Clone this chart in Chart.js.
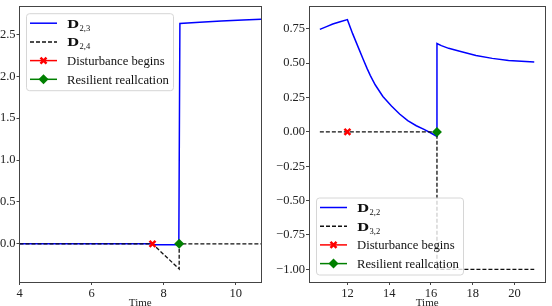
<!DOCTYPE html>
<html>
<head>
<meta charset="utf-8">
<script src="https://cdn.jsdelivr.net/npm/chart.js@4.4.0/dist/chart.umd.min.js"></script>
<style>
    html, body { margin: 0; padding: 0; background: #fff; }
    body { width: 552px; height: 306px; position: relative; overflow: hidden; }
    .panel { position: absolute; top: 0; height: 306px; }
</style>
</head>
<body>
<div class="panel" style="left:0;width:270px"><canvas id="leftChart"></canvas></div>
<div class="panel" style="left:270px;width:282px"><canvas id="rightChart"></canvas></div>
<script>
// left panel: D_{2,3} and D_{2,4}
const leftTimeD23 = [4, 7.69, 7.71, 8.42, 8.45, 9.0, 9.6, 10.2, 10.7];
const leftD23 = [0, 0, -0.01, -0.01, 2.63, 2.645, 2.66, 2.672, 2.68];
const leftTimeD24 = [4, 7.69, 8.43, 8.43, 10.7];
const leftD24 = [0, 0, -0.30, 0, 0];
const leftDisturbance = [[7.69, 0]];
const leftResilient = [[8.43, 0]];
const leftXTicks = [4, 6, 8, 10];
const leftYTicks = [0, 0.5, 1.0, 1.5, 2.0, 2.5];

// right panel: D_{2,2} and D_{3,2}
const rightTimeD22 = [10.68, 11.0, 11.3, 11.65, 12.0, 12.25, 12.55, 12.75, 12.94, 13.1, 13.33, 13.7,
                      14.11, 14.5, 14.89, 15.3, 15.67, 16.0, 16.27,
                      16.29, 16.5, 16.85, 17.38, 18.16, 18.94, 19.72, 20.95];
const rightD22 = [0.746, 0.766, 0.785, 0.802, 0.817, 0.715, 0.604, 0.53, 0.462, 0.41, 0.343, 0.258,
                  0.189, 0.13, 0.082, 0.045, 0.018, -0.008, -0.031,
                  0.643, 0.628, 0.608, 0.587, 0.556, 0.535, 0.52, 0.509];
const rightTimeD32 = [10.68, 16.29, 16.29, 20.95];
const rightD32 = [0, 0, -1, -1];
const rightDisturbance = [[12.0, 0]];
const rightResilient = [[16.29, 0]];
const rightXTicks = [12, 14, 16, 18, 20];
const rightYTicks = [-1.0, -0.75, -0.5, -0.25, 0, 0.25, 0.5, 0.75];

const SERIF = "'Liberation Serif', 'Times New Roman', serif";

function zip(xs, ys) {
    return xs.map((x, i) => ({ x: x, y: ys[i] }));
}

function fmt(v, digits) {
    return v.toFixed(digits).replace('-', '\u2212');
}

function drawMarker(ctx, kind, x, y) {
    ctx.save();
    ctx.setLineDash([]);
    if (kind === 'x') {
        ctx.strokeStyle = '#ff0000';
        ctx.lineWidth = 2.5;
        ctx.beginPath();
        ctx.moveTo(x - 3, y - 3); ctx.lineTo(x + 3, y + 3);
        ctx.moveTo(x - 3, y + 3); ctx.lineTo(x + 3, y - 3);
        ctx.stroke();
    } else {
        ctx.fillStyle = '#008000';
        ctx.beginPath();
        ctx.moveTo(x, y - 5); ctx.lineTo(x + 5, y); ctx.lineTo(x, y + 5); ctx.lineTo(x - 5, y);
        ctx.closePath();
        ctx.fill();
    }
    ctx.restore();
}

const frameLegend = {
    id: 'frameLegend',
    afterDatasetsDraw(chart, args, opts) {
        const { ctx, chartArea: a } = chart;
        ctx.save();
        ctx.strokeStyle = '#444';
        ctx.lineWidth = 1;
        const l = Math.floor(a.left) + 0.5, r = Math.floor(a.right) + 0.5;
        const t = Math.floor(a.top) + 0.5, b = Math.floor(a.bottom) + 0.5;
        ctx.strokeRect(l, t, r - l, b - t);
        ctx.restore();
    },
    afterDraw(chart, args, opts) {
        const { ctx, chartArea: a } = chart;
        const bx = a.left + opts.dx;
        const by = opts.fromBottom ? a.bottom - opts.dy - 77 : a.top + opts.dy;
        const bw = 147, bh = 77;
        ctx.save();
        ctx.beginPath();
        ctx.roundRect(bx + 0.5, by + 0.5, bw, bh, 3);
        ctx.fillStyle = 'rgba(255,255,255,0.8)';
        ctx.fill();
        ctx.strokeStyle = '#d6d6d6';
        ctx.lineWidth = 1;
        ctx.stroke();

        opts.entries.forEach((e, i) => {
            const y = by + 10 + i * 18.7;
            ctx.beginPath();
            ctx.setLineDash(e.dash || []);
            ctx.strokeStyle = e.color;
            ctx.lineWidth = 1.5;
            ctx.moveTo(bx + 4, y);
            ctx.lineTo(bx + 31, y);
            ctx.stroke();
            ctx.setLineDash([]);
            if (e.marker) drawMarker(ctx, e.marker, bx + 17.5, y);

            ctx.fillStyle = '#111';
            ctx.textAlign = 'left';
            ctx.textBaseline = 'alphabetic';
            const tx = bx + 41;
            if (e.sub) {
                // wide bold math D, like the LaTeX original
                ctx.save();
                ctx.translate(tx, y + 4.5);
                ctx.scale(1.25, 1);
                ctx.font = "bold 11px 'DejaVu Serif', serif";
                ctx.fillText(e.label, 0, 0);
                ctx.restore();
                ctx.font = '8.5px ' + SERIF;
                ctx.fillText(e.sub, tx + 12.5, y + 7.3);
            } else {
                ctx.font = '12.7px ' + SERIF;
                ctx.fillText(e.label, tx, y + 4.4);
            }
        });
        ctx.restore();
    }
};

function lineSet(data, color, dash, order) {
    return {
        data: data,
        borderColor: color,
        borderWidth: dash ? 1.3 : 1.5,
        borderDash: dash || [],
        pointRadius: 0,
        tension: 0,
        fill: false,
        order: order
    };
}

function markerSet(points, kind, order) {
    const data = points.map(p => ({ x: p[0], y: p[1] }));
    if (kind === 'x') {
        return {
            data: data, showLine: false, order: order,
            pointStyle: 'crossRot', pointRadius: 4.2, borderWidth: 2.5,
            borderColor: '#ff0000', backgroundColor: '#ff0000'
        };
    }
    return {
        data: data, showLine: false, order: order,
        pointStyle: 'rectRot', pointRadius: 5, borderWidth: 0,
        borderColor: '#008000', backgroundColor: '#008000'
    };
}

function makeChart(canvasId, cfg) {
    const tickFont = { family: SERIF, size: 12.5 };
    new Chart(document.getElementById(canvasId), {
        type: 'line',
        data: {
            datasets: [
                markerSet(cfg.disturbance, 'x', 0),
                markerSet(cfg.resilient, 'd', 1),
                lineSet(cfg.dashed, '#111', [4, 2], 2),
                lineSet(cfg.solid, '#0000ff', null, 3)
            ]
        },
        options: {
            responsive: true,
            maintainAspectRatio: false,
            animation: false,
            devicePixelRatio: 1,
            layout: { padding: cfg.padding },
            plugins: {
                legend: { display: false },
                tooltip: { enabled: false },
                frameLegend: { dx: cfg.legendDx, dy: cfg.legendDy, fromBottom: cfg.legendBottom, entries: cfg.entries }
            },
            scales: {
                x: {
                    type: 'linear',
                    min: cfg.xMin, max: cfg.xMax,
                    afterBuildTicks: s => { s.ticks = cfg.xTicks.map(v => ({ value: v })); },
                    afterFit: s => { s.height = 24; s.paddingLeft = 0; s.paddingRight = 0; },
                    grid: { drawOnChartArea: false, drawTicks: true, tickLength: 3, color: '#444' },
                    border: { display: false },
                    ticks: { color: '#222', font: tickFont, padding: 1, maxRotation: 0,
                             callback: v => String(v) },
                    title: { display: true, text: 'Time', color: '#222',
                             font: { family: SERIF, size: 11 }, padding: { top: 0, bottom: -3.5 } }
                },
                y: {
                    type: 'linear',
                    min: cfg.yMin, max: cfg.yMax,
                    afterBuildTicks: s => { s.ticks = cfg.yTicks.map(v => ({ value: v })); },
                    afterFit: s => { s.width = cfg.yWidth; s.paddingTop = 0; s.paddingBottom = 0; },
                    grid: { drawOnChartArea: false, drawTicks: true, tickLength: 3, color: '#444' },
                    border: { display: false },
                    ticks: { color: '#222', font: tickFont, padding: 1,
                             callback: v => fmt(v, cfg.yDigits) }
                }
            }
        },
        plugins: [frameLegend]
    });
}

makeChart('leftChart', {
    solid: zip(leftTimeD23, leftD23),
    dashed: zip(leftTimeD24, leftD24),
    disturbance: leftDisturbance,
    resilient: leftResilient,
    xMin: 4, xMax: 10.7, yMin: -0.455, yMax: 2.83,
    xTicks: leftXTicks, yTicks: leftYTicks, yDigits: 1,
    yWidth: 19.5,
    padding: { left: 0, right: 9, top: 0, bottom: 0 },
    legendDx: 6.5, legendDy: 6.5, legendBottom: false,
    entries: [
        { label: 'D', sub: '2,3', color: '#0000ff' },
        { label: 'D', sub: '2,4', color: '#111', dash: [4, 2] },
        { label: 'Disturbance begins', color: '#ff0000', marker: 'x' },
        { label: 'Resilient reallcation', color: '#008000', marker: 'd' }
    ]
});

makeChart('rightChart', {
    solid: zip(rightTimeD22, rightD22),
    dashed: zip(rightTimeD32, rightD32),
    disturbance: rightDisturbance,
    resilient: rightResilient,
    xMin: 10.16, xMax: 21.48, yMin: -1.092, yMax: 0.911,
    xTicks: rightXTicks, yTicks: rightYTicks, yDigits: 2,
    yWidth: 39,
    padding: { left: 0, right: 1, top: 0, bottom: 0 },
    legendDx: 7, legendDy: 7.5, legendBottom: true,
    entries: [
        { label: 'D', sub: '2,2', color: '#0000ff' },
        { label: 'D', sub: '3,2', color: '#111', dash: [4, 2] },
        { label: 'Disturbance begins', color: '#ff0000', marker: 'x' },
        { label: 'Resilient reallcation', color: '#008000', marker: 'd' }
    ]
});
</script>
</body>
</html>
